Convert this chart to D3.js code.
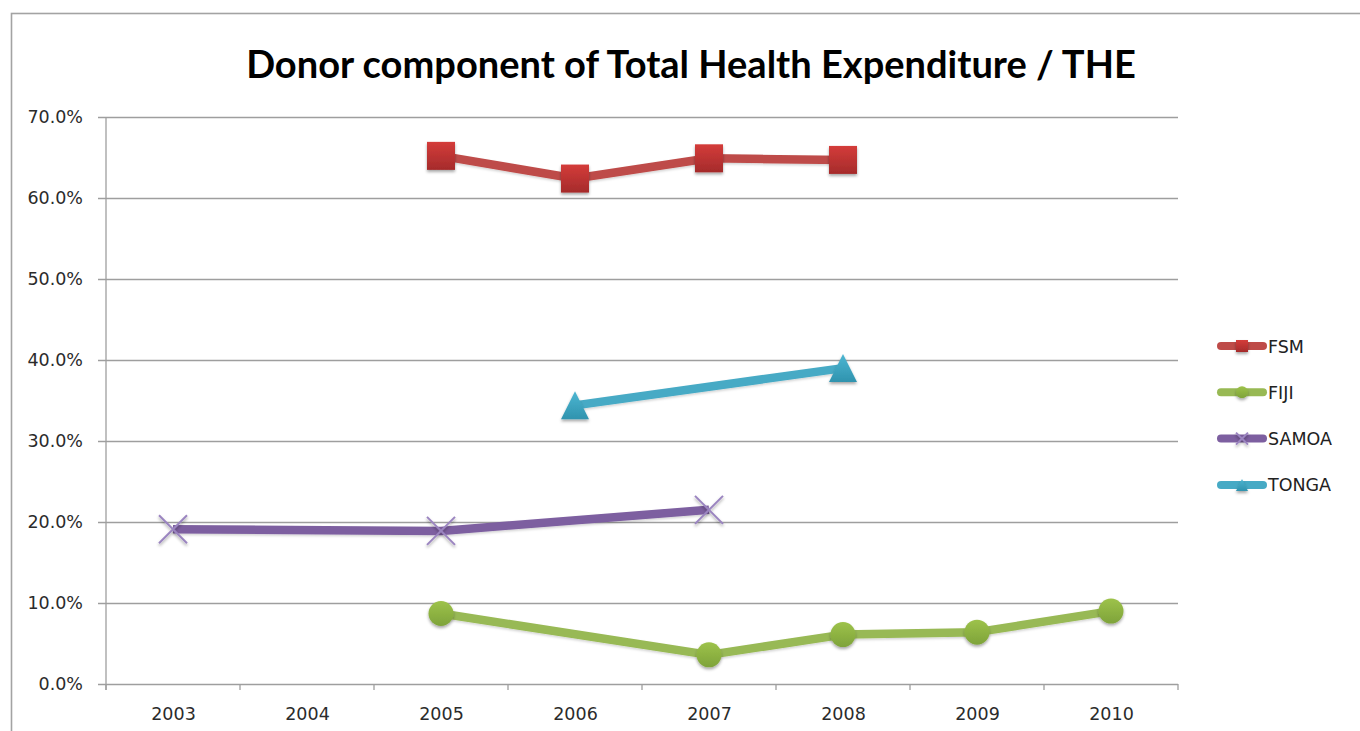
<!DOCTYPE html>
<html>
<head>
<meta charset="utf-8">
<script src="https://cdn.jsdelivr.net/npm/d3@7"></script>
<style>
  html, body { margin: 0; padding: 0; background: #fff; }
  svg { display: block; }
</style>
</head>
<body>
<svg id="chart" width="1360" height="731"></svg>
<script>
// ---- data ----
const title = "Donor component of Total Health Expenditure / THE";
const years = ["2003", "2004", "2005", "2006", "2007", "2008", "2009", "2010"];
const yTicks = [0, 10, 20, 30, 40, 50, 60, 70];
const seriesNames = ["FSM", "FIJI", "SAMOA", "TONGA"];
const fsmValues   = [null, null, 65.2, 62.4, 64.9, 64.7, null, null];
const fijiValues  = [null, null, 8.7, null, 3.6, 6.1, 6.4, 9.0];
const samoaValues = [19.1, null, 18.9, null, 21.5, null, null, null];
const tongaValues = [null, null, null, 34.4, null, 39.0, null, null];

const seriesColors = ["#BE4B48", "#98B954", "#7D5FA0", "#46AAC5"];
const markerTop    = ["#D43C3A", "#9DC24A", "#9B85C0", "#4DB6D2"];
const markerBottom = ["#A52B2B", "#7EA33A", "#7D5FA0", "#2F93AE"];
const markerTypes  = ["square", "circle", "x", "triangle"];

const series = seriesNames.map((name, i) => ({
  name, color: seriesColors[i], type: markerTypes[i], idx: i,
  values: [fsmValues, fijiValues, samoaValues, tongaValues][i]
}));

// ---- layout ----
const svg = d3.select("#chart");
const plot = { left: 106, right: 1178, top: 117, bottom: 684 };

const x = d3.scalePoint().domain(years).range([plot.left, plot.right]).padding(0.5);
const xBand = d3.scaleBand().domain(years).range([plot.left, plot.right]);
const y = d3.scaleLinear().domain([0, 70]).range([plot.bottom, plot.top]);

const defs = svg.append("defs");
const shadow = defs.append("filter").attr("id", "shadow")
  .attr("x", "-40%").attr("y", "-40%").attr("width", "180%").attr("height", "180%");
shadow.append("feDropShadow").attr("dx", 0).attr("dy", 2).attr("stdDeviation", 1.6)
  .attr("flood-color", "#000").attr("flood-opacity", 0.35);
const lshadow = defs.append("filter").attr("id", "lshadow")
  .attr("x", "-10%").attr("y", "-40%").attr("width", "120%").attr("height", "180%");
lshadow.append("feDropShadow").attr("dx", 0).attr("dy", 1.5).attr("stdDeviation", 1.2)
  .attr("flood-color", "#000").attr("flood-opacity", 0.18);

series.forEach((s, i) => {
  const g = defs.append("linearGradient").attr("id", "grad" + i)
    .attr("x1", 0).attr("y1", 0).attr("x2", 0).attr("y2", 1);
  g.append("stop").attr("offset", "0%").attr("stop-color", markerTop[i]);
  g.append("stop").attr("offset", "100%").attr("stop-color", markerBottom[i]);
});

// frame
svg.append("rect").attr("x", 11.5).attr("y", 13.5).attr("width", 1400).attr("height", 800)
  .attr("fill", "#fff").attr("stroke", "#a3a3a3").attr("stroke-width", 1.6);

// title
const t = svg.append("text").attr("x", 691).attr("y", 78)
  .attr("text-anchor", "middle")
  .attr("font-family", "Lato, 'Open Sans', sans-serif")
  .attr("font-weight", "bold").attr("font-size", 36).attr("fill", "#000")
  .text(title);
const tw = t.node().getComputedTextLength();
t.attr("font-size", 36 * 890 / tw);

// gridlines (y axis)
const yAxis = d3.axisLeft(y).tickValues(yTicks)
  .tickSize(-(plot.right - plot.left)).tickPadding(15)
  .tickFormat(d => d.toFixed(1) + "%");
const gy = svg.append("g").attr("transform", `translate(${plot.left},0)`).call(yAxis);
gy.select(".domain").remove();
gy.selectAll(".tick line").attr("stroke", "#9e9e9e").attr("stroke-width", 1.3)
  .attr("x1", -8);
gy.selectAll(".tick text").attr("font-family", "'DejaVu Sans', sans-serif")
  .attr("font-size", 17.5).attr("fill", "#2b2b2b").attr("x", -23);

// y axis vertical line
svg.append("line").attr("x1", plot.left).attr("x2", plot.left)
  .attr("y1", plot.top).attr("y2", plot.bottom + 6)
  .attr("stroke", "#9e9e9e").attr("stroke-width", 1.3);

// x axis
const xAxis = d3.axisBottom(x).tickSize(0).tickPadding(24);
const gx = svg.append("g").attr("transform", `translate(0,${plot.bottom})`).call(xAxis);
gx.select(".domain").remove();
gx.selectAll(".tick text").attr("font-family", "'DejaVu Sans', sans-serif")
  .attr("font-size", 17.5).attr("fill", "#2b2b2b");
// category boundary ticks
const bounds = years.map(d => xBand(d)).concat([xBand(years[years.length - 1]) + xBand.bandwidth()]);
svg.append("g").selectAll("line").data(bounds).join("line")
  .attr("x1", d => d).attr("x2", d => d)
  .attr("y1", plot.bottom).attr("y2", plot.bottom + 6)
  .attr("stroke", "#9e9e9e").attr("stroke-width", 1.3);

// marker drawing
function drawMarker(g, type, cx, cy, size, i) {
  const fill = `url(#grad${i})`;
  if (type === "square") {
    g.append("rect").attr("x", cx - size / 2).attr("y", cy - size / 2)
      .attr("width", size).attr("height", size).attr("fill", fill)
      .attr("filter", "url(#shadow)");
  } else if (type === "circle") {
    g.append("circle").attr("cx", cx).attr("cy", cy).attr("r", size / 2)
      .attr("fill", fill).attr("filter", "url(#shadow)");
  } else if (type === "triangle") {
    const h = size;
    g.append("path").attr("d",
      `M${cx},${cy - h / 2} L${cx + size / 2},${cy + h / 2} L${cx - size / 2},${cy + h / 2} Z`)
      .attr("fill", fill).attr("filter", "url(#shadow)");
  } else if (type === "x") {
    const r = size / 2;
    g.append("path").attr("d",
      `M${cx - r},${cy - r} L${cx + r},${cy + r} M${cx - r},${cy + r} L${cx + r},${cy - r}`)
      .attr("stroke", markerTop[i]).attr("stroke-width", 2).attr("fill", "none")
      .attr("filter", "url(#shadow)");
  }
}

// series
const line = d3.line().x(d => x(d.year)).y(d => y(d.v));
const markerSizes = { square: 28, circle: 25, triangle: 28, x: 28 };
series.forEach(s => {
  const pts = years.map((yr, k) => ({ year: yr, v: s.values[k] })).filter(d => d.v != null);
  const g = svg.append("g");
  g.append("path").datum(pts).attr("d", line)
    .attr("fill", "none").attr("stroke", s.color).attr("stroke-width", 8.5)
    .attr("stroke-linejoin", "round").attr("filter", "url(#lshadow)");
  pts.forEach(p => drawMarker(g, s.type, x(p.year), y(p.v), markerSizes[s.type], s.idx));
});

// legend
const legendY0 = 346, legendStep = 46.3;
const lg = svg.append("g");
series.forEach((s, i) => {
  const cy = legendY0 + i * legendStep;
  lg.append("line").attr("x1", 1221).attr("x2", 1263).attr("y1", cy).attr("y2", cy)
    .attr("stroke", s.color).attr("stroke-width", 8).attr("stroke-linecap", "round");
  drawMarker(lg, s.type, 1242, cy, 12, i);
  lg.append("text").attr("x", 1268).attr("y", cy + 6.5)
    .attr("font-family", "'DejaVu Sans', sans-serif").attr("font-size", 17.5)
    .attr("fill", "#222").text(s.name);
});
</script>
</body>
</html>
